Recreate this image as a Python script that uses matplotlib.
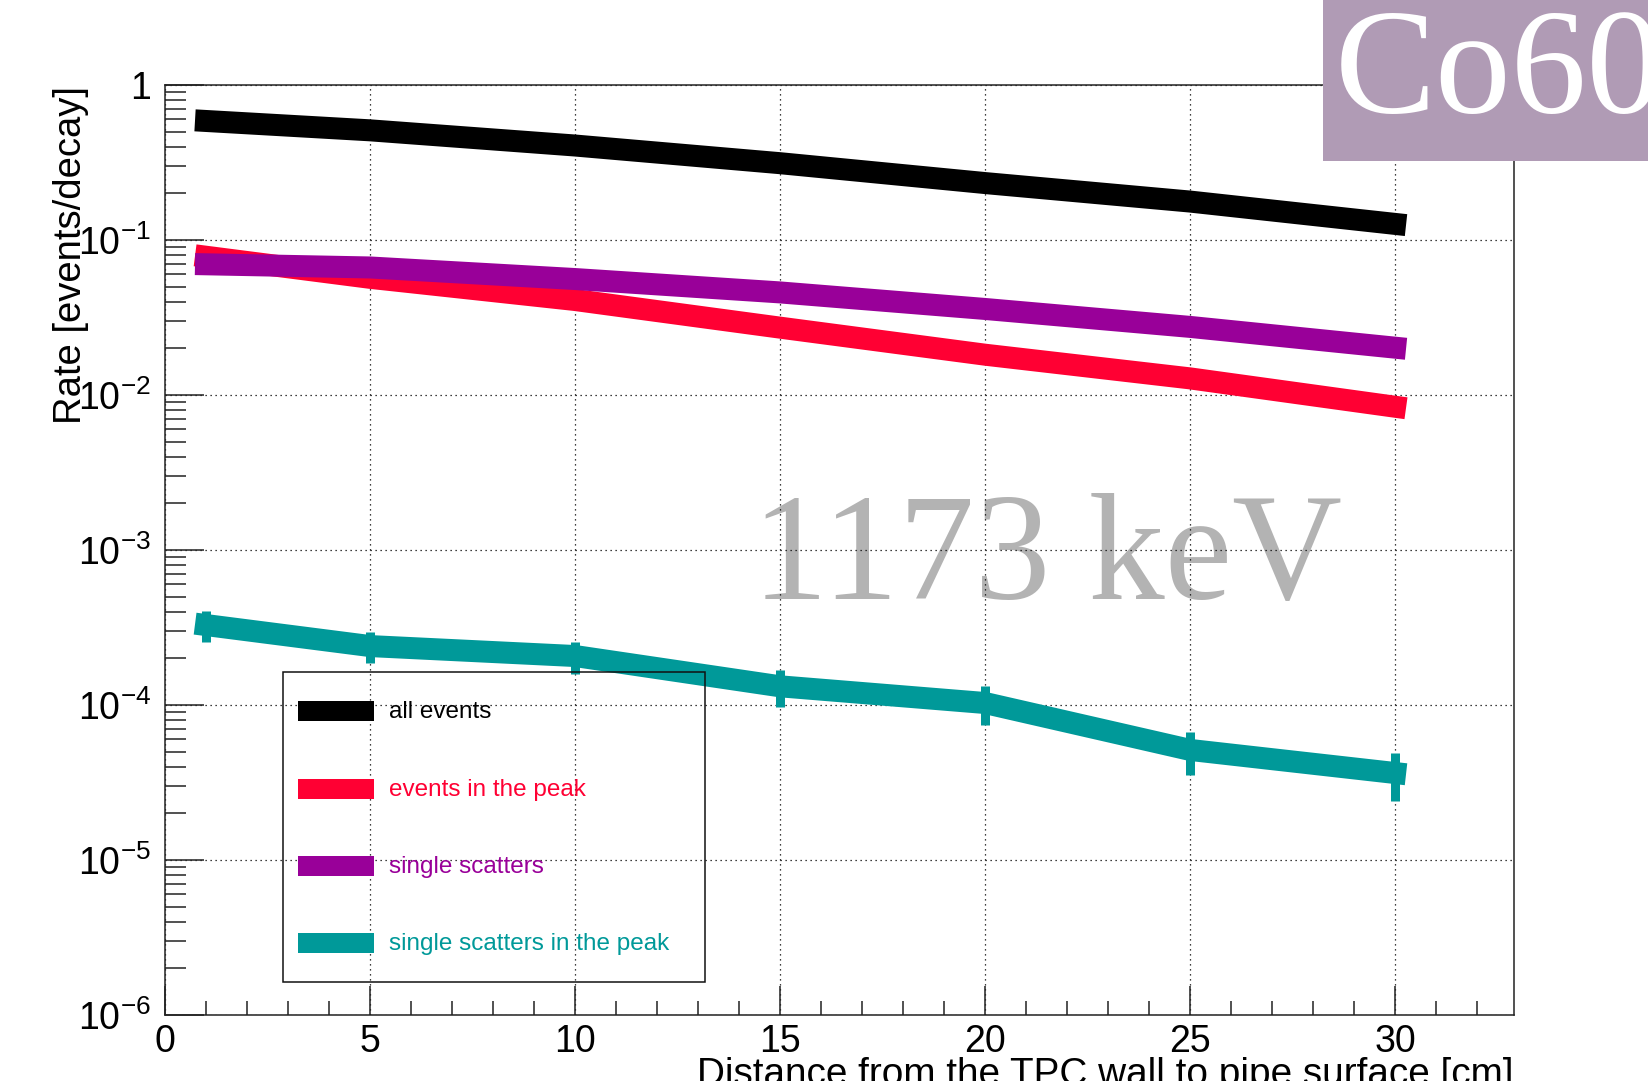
import matplotlib
matplotlib.use("Agg")
import matplotlib.pyplot as plt
from matplotlib.lines import Line2D
from matplotlib.patches import Rectangle
from matplotlib.ticker import FixedLocator, FixedFormatter, LogLocator, NullFormatter

plt.rcParams["font.family"] = ["Liberation Sans", "DejaVu Sans"]
plt.rcParams["mathtext.fontset"] = "custom"
plt.rcParams["mathtext.rm"] = "Liberation Sans"
plt.rcParams["mathtext.it"] = "Liberation Sans:italic"
plt.rcParams["mathtext.bf"] = "Liberation Sans:bold"
plt.rcParams["mathtext.default"] = "regular"

# distance from TPC wall to pipe surface [cm]
distance = [1, 5, 10, 15, 20, 25, 30]

# rates [events/decay]
all_events = [0.586, 0.51, 0.407, 0.313, 0.233, 0.177, 0.127]
peak_events = [0.078, 0.057, 0.041, 0.0272, 0.0182, 0.0128, 0.0084]
single_scatters = [0.0697, 0.0665, 0.056, 0.0459, 0.0359, 0.0275, 0.0202]
ss_peak = [3.28e-4, 2.40e-4, 2.07e-4, 1.32e-4, 1.03e-4, 5.13e-5, 3.64e-5]
ss_peak_err = [7.4e-5, 5.4e-5, 4.8e-5, 3.5e-5, 2.9e-5, 1.6e-5, 1.25e-5]

labels = ["all events", "events in the peak", "single scatters",
          "single scatters in the peak"]
colors = ["#000000", "#FF0033", "#990099", "#009999"]

x_ticks = [0, 5, 10, 15, 20, 25, 30]
y_ticks = [1e-6, 1e-5, 1e-4, 1e-3, 1e-2, 1e-1, 1]
y_ticklabels = [r"$10^{-6}$", r"$10^{-5}$", r"$10^{-4}$", r"$10^{-3}$",
                r"$10^{-2}$", r"$10^{-1}$", "1"]

W, H = 1649, 1081
DPI = 100


def fx(px):
    return px / W


def fy(py):
    return 1 - py / H


def pt(px):
    return px * 72.0 / DPI


fig = plt.figure(figsize=(W / DPI, H / DPI), dpi=DPI)
ax = fig.add_axes([fx(165), fy(1015), (1514 - 165) / W, (1015 - 85) / H])
ax.set_yscale("log")
ax.set_xlim(0, 32.9)
ax.set_ylim(1e-6, 1)

band = pt(22)
series = [all_events, peak_events, single_scatters, ss_peak]
for ys, c in zip(series, colors):
    ax.plot(distance, ys, color=c, lw=band, solid_capstyle="projecting",
            solid_joinstyle="miter", zorder=2)
ax.errorbar(distance, ss_peak, yerr=ss_peak_err, fmt="none", ecolor=colors[3],
            elinewidth=pt(9), capsize=0, zorder=2.1)

# grid + ticks, ROOT style
ax.set_axisbelow(True)
ax.grid(True, which="major", color="black", lw=0.9, ls=(0, (1, 3)))
ax.xaxis.set_major_locator(FixedLocator(x_ticks))
ax.xaxis.set_major_formatter(FixedFormatter([str(v) for v in x_ticks]))
ax.xaxis.set_minor_locator(FixedLocator(range(0, 33)))
ax.yaxis.set_major_locator(FixedLocator(y_ticks))
ax.yaxis.set_major_formatter(FixedFormatter(y_ticklabels))
ax.yaxis.set_minor_locator(LogLocator(base=10, subs=range(2, 10), numticks=20))
ax.yaxis.set_minor_formatter(NullFormatter())
ax.tick_params(axis="both", which="both", direction="in", top=False,
               right=False, width=1.1, color="#222", labelsize=27)
ax.tick_params(axis="x", which="major", length=pt(29), pad=pt(9))
ax.tick_params(axis="x", which="minor", length=pt(14))
ax.tick_params(axis="y", which="major", length=pt(39), pad=pt(14))
ax.tick_params(axis="y", which="minor", length=pt(21))
for s in ax.spines.values():
    s.set_linewidth(1.1)
    s.set_color("#222")

fig.text(fx(71), fy(86), "Rate [events/decay]", rotation=90, ha="center",
         va="top", fontsize=27.5)
fig.text(fx(1514), fy(1057), "Distance from the TPC wall to pipe surface [cm]",
         ha="right", va="top", fontsize=27.9)

# energy watermark behind the grid
ax.text(fx(752), fy(599), "1173 keV", transform=fig.transFigure,
        family=["Liberation Serif", "DejaVu Serif"], fontsize=109.5,
        color="#B3B3B3", ha="left", va="baseline", zorder=0.2)

# legend box
fig.add_artist(Rectangle((fx(283), fy(982)), (705 - 283) / W, (982 - 672) / H,
                         transform=fig.transFigure, fill=False, ec="#111",
                         lw=1.1, zorder=10))
rows = [711, 789, 866, 943]
for row, lab, c in zip(rows, labels, colors):
    fig.add_artist(Line2D([fx(298), fx(374)], [fy(row), fy(row)],
                          transform=fig.transFigure, color=c, lw=pt(20),
                          solid_capstyle="butt", zorder=10))
    fig.text(fx(389), fy(row + 7), lab, color=c, fontsize=17.5,
             ha="left", va="baseline", zorder=10)

# source tag in the top right corner
fig.add_artist(Rectangle((fx(1323), fy(161)), (W - 1323) / W + 0.01, 161 / H + 0.01,
                         transform=fig.transFigure, fc="#B09BB5", ec="none",
                         zorder=20))
fig.text(fx(1335), fy(113), "Co60", color="white",
         family=["Liberation Serif", "DejaVu Serif"], fontsize=109,
         ha="left", va="baseline", zorder=21)

fig.savefig("out.png", dpi=DPI)
